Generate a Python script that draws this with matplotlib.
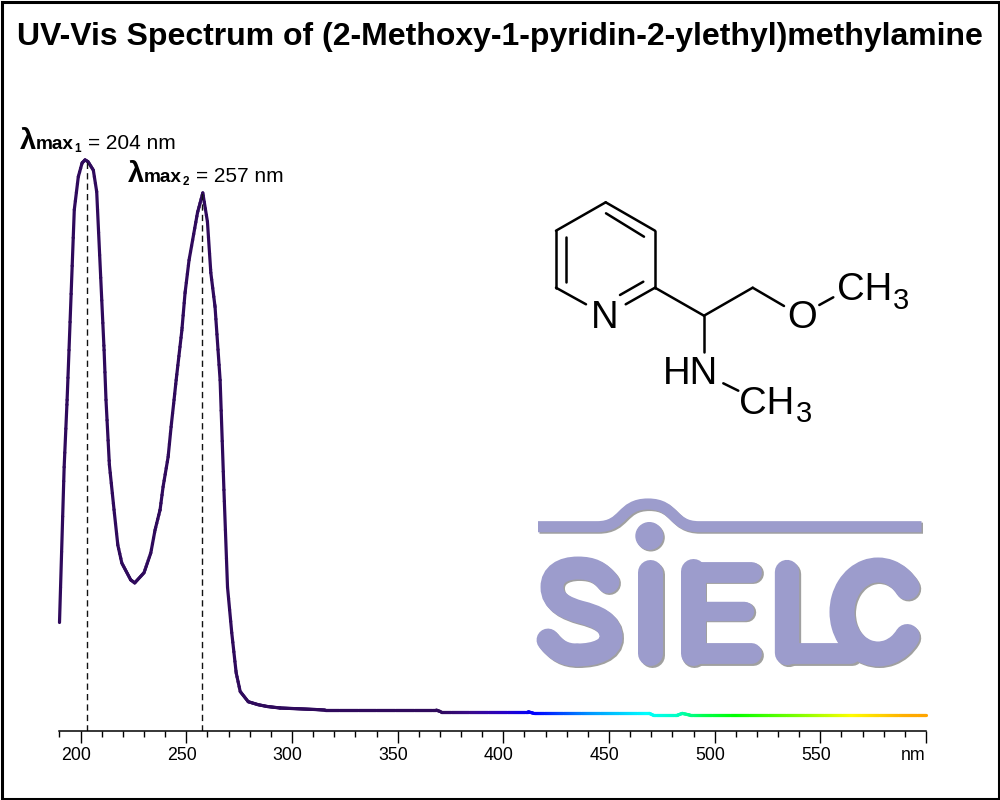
import numpy as np
import matplotlib
matplotlib.use('Agg')
import matplotlib.pyplot as plt
from matplotlib.collections import LineCollection
from matplotlib.colors import to_rgb
from matplotlib.patches import Circle, PathPatch, Rectangle, Arc
from matplotlib.path import Path
from matplotlib.transforms import ScaledTranslation

plt.rcParams['font.family'] = ['Liberation Sans', 'DejaVu Sans']

# spectrum
wavelength = [190, 192.2, 193.6, 194.5, 197, 198.9, 200.7, 202.1, 203.5, 206, 207.6,
              211.1, 212, 213.6, 215.8, 217.6, 219.5, 223.7, 225.6, 230, 233.2,
              235.2, 237.6, 239, 241.4, 242.8, 244.2, 245.2, 247.9, 249.4, 251.3, 255.3,
              257.8, 260, 261.6, 263.6, 266, 267.8, 269.5, 271.5, 273.6, 275.5,
              279.3, 284, 288.3, 294.4, 311, 315.7, 368.3, 370.5, 411.8, 414.5,
              469.1, 471, 482.4, 484.7, 488.5, 600]
absorbance = [.180, .439, .551, .634, .868, .923, .946, .951, .948, .934, .898,
              .634, .551, .443, .368, .309, .279, .251, .246, .263, .296,
              .334, .368, .406, .456, .506, .551, .584, .667, .729, .784, .863,
              .896, .848, .763, .706, .584, .401, .239, .163, .096, .065,
              .048, .043, .040, .0375, .035, .034, .034, .0312, .0312, .0285,
              .0285, .0255, .0255, .0285, .0255, .0255]

peak_nm = [203, 257.3]
peak_abs = [.951, .896]
peak_text = ['= 204 nm', '= 257 nm']
peak_sub = ['1', '2']

major_ticks = [200, 250, 300, 350, 400, 450, 500, 550, 600]
major_labels = ['200', '250', '300', '350', '400', '450', '500', '550', 'nm']
minor_ticks = [190, 210, 220, 230, 240, 260, 270, 280, 290, 310, 320, 330, 340, 360, 370,
               380, 390, 410, 420, 430, 440, 460, 470, 480, 490, 510, 520, 530, 540, 560,
               570, 580, 590]

color_nm = [190, 370, 385, 400, 415, 440, 468, 482, 495, 510, 540, 565, 590, 600]
color_hex = ['#2f0a5c', '#2f0a5c', '#3a0a8c', '#2a00c4', '#0000ff', '#0090ff', '#00ffff',
             '#00ffc8', '#00ff50', '#00ff00', '#80ff00', '#ffff00', '#ffb000', '#ffa500']

logo_color = '#9c9ccc'
shadow_color = '#a0a0a0'

fig = plt.figure(figsize=(10, 8), dpi=100)

# main axes, only the bottom spine shows
ax = fig.add_axes([0.0595, 1 - 730.5 / 800, 0.8665, 600 / 800])
ax.patch.set_alpha(0)
ax.set_xlim(190, 600)
ax.set_ylim(0, 1)
for s in ['top', 'left', 'right']:
    ax.spines[s].set_visible(False)
ax.spines['bottom'].set_linewidth(1.1)
ax.yaxis.set_visible(False)
ax.set_xticks(major_ticks)
ax.set_xticklabels(major_labels, fontsize=12.8)
ax.set_xticks(minor_ticks, minor=True)
ax.tick_params(axis='x', which='major', length=8.6, width=1.0, pad=3)
ax.tick_params(axis='x', which='minor', length=4.3, width=1.0)
for i, lab in enumerate(ax.get_xticklabels()):
    shift = -12.5 if i == len(major_ticks) - 1 else -4.5
    lab.set_transform(lab.get_transform() + ScaledTranslation(shift / 100, 0, fig.dpi_scale_trans))

# spectrum line, coloured by wavelength
fine_nm = np.union1d(wavelength, np.arange(190, 600, 0.5))
fine_abs = np.interp(fine_nm, wavelength, absorbance)
pts = np.column_stack([fine_nm, fine_abs])
segs = np.stack([pts[:-1], pts[1:]], axis=1)
rgb = np.array([to_rgb(c) for c in color_hex])
mid = (fine_nm[:-1] + fine_nm[1:]) / 2
seg_colors = np.column_stack([np.interp(mid, color_nm, rgb[:, k]) for k in range(3)])
ax.add_collection(LineCollection(segs, colors=seg_colors, linewidths=2.3, capstyle='round',
                                 joinstyle='round', clip_on=False))

ax.vlines(peak_nm, 0, peak_abs, colors='#111111', linewidth=1.0, linestyles=(0, (4.5, 3)))

# overlay in pixel coordinates for everything that is not data
ov = fig.add_axes([0, 0, 1, 1])
ov.set_xlim(0, 1000)
ov.set_ylim(800, 0)
ov.axis('off')
ov.patch.set_alpha(0)

ov.add_patch(Rectangle((1.5, 1.5), 997, 797, fill=False, edgecolor='black', linewidth=2.2))

ov.text(500, 45, 'UV-Vis Spectrum of (2-Methoxy-1-pyridin-2-ylethyl)methylamine',
        fontsize=23, fontweight='bold', ha='center', va='baseline')

# lambda max labels
for x0, y0, sub, txt in zip([20, 128.3], [149.3, 181.7], peak_sub, peak_text):
    ov.text(x0, y0, '\u03bb', fontsize=21, fontweight='bold', va='baseline')
    ov.text(x0 + 15.5, y0, 'max', fontsize=13.7, fontweight='bold', va='baseline')
    ov.text(x0 + 54, y0 + 3, sub, fontsize=8.5, fontweight='bold', va='baseline')
    ov.text(x0 + 67.5, y0, txt, fontsize=15, va='baseline')

# molecule
bonds = [
    ((605.7, 202.3), (655, 230.7)), ((655, 230.7), (655, 287.7)),
    ((605.7, 202.3), (556, 230.7)), ((556, 230.7), (556, 287.7)),
    ((556, 287.7), (586, 304.3)), ((655, 287.7), (625.7, 304.3)),
    ((620, 295), (643.3, 281.7)), ((566, 236.7), (566, 281.7)),
    ((606, 213.3), (644, 236.7)),
    ((655, 287.7), (704, 315.7)), ((704, 315.7), (752.7, 287.7)),
    ((752.7, 287.7), (784, 306)), ((819.3, 305), (833.3, 297.3)),
    ((704, 315.7), (704, 351.7)), ((723.3, 383.3), (738.3, 390.7)),
]
for a, b in bonds:
    ov.plot([a[0], b[0]], [a[1], b[1]], color='black', linewidth=1.8, solid_capstyle='round')

atom_size = 27.5
for x0, y0, s, fs in [(605, 318, 'N', atom_size), (801.7, 318, 'O', atom_size),
                      (865, 290, 'CH', atom_size), (901.5, 301, '3', 21),
                      (691, 374, 'HN', atom_size), (767, 404, 'CH', atom_size),
                      (804, 414, '3', 21)]:
    ov.text(x0, y0, s, fontsize=fs, ha='center', va='center')

# SIELC logo, drawn twice for the soft shadow
s_codes = [Path.MOVETO] + [Path.CURVE4] * 15
s_verts = [(608, 582), (600, 572), (592, 568), (578, 568), (562, 568), (552, 575), (552, 587),
           (552, 602), (566, 608), (580, 612), (596, 616), (611, 622), (611, 637),
           (611, 649), (596, 655), (577, 655)]
s_codes2 = [Path.MOVETO] + [Path.CURVE4] * 3
s_verts2 = [(577, 655), (564, 655), (556, 650), (548, 640)]
hump = Path([(538, 526.7), (597, 526.7), (625, 526.7), (620, 504), (648, 504),
             (676, 504), (671, 526.7), (699, 526.7), (921.5, 526.7)],
            [Path.MOVETO, Path.LINETO, Path.CURVE4, Path.CURVE4, Path.CURVE4,
             Path.CURVE4, Path.CURVE4, Path.CURVE4, Path.LINETO])


def draw_logo(dx, dy, col, z):
    def stroke(xs, ys, w):
        ov.plot(np.array(xs) + dx, np.array(ys) + dy, color=col, linewidth=w,
                solid_capstyle='round', solid_joinstyle='round', zorder=z)

    def curve(path, w, cap='round'):
        p = Path(path.vertices + [dx, dy], path.codes)
        ov.add_patch(PathPatch(p, fill=False, edgecolor=col, linewidth=w, capstyle=cap, zorder=z))

    curve(hump, 8, cap='butt')
    ov.add_patch(Circle((649.3 + dx, 536 + dy), 13.3, color=col, zorder=z))
    curve(Path(s_verts, s_codes), 16.5)
    curve(Path(s_verts2, s_codes2), 16.5)
    stroke([650, 650], [572, 653], 18)
    stroke([692.5, 692.5], [571, 653], 18)
    stroke([692.5, 751], [571.5, 571.5], 15)
    stroke([692.5, 744], [610.5, 610.5], 14)
    stroke([692.5, 751], [653, 653], 15)
    stroke([787, 787], [572, 653], 17.5)
    stroke([787, 850], [653, 653], 15)
    ov.add_patch(Arc((878 + dx, 612 + dy), 72, 84, theta1=40, theta2=320, edgecolor=col,
                     linewidth=18, capstyle='round', zorder=z))


draw_logo(1.5, 1.5, shadow_color, 3)
draw_logo(0, 0, logo_color, 4)

fig.savefig('out.png', dpi=100)
